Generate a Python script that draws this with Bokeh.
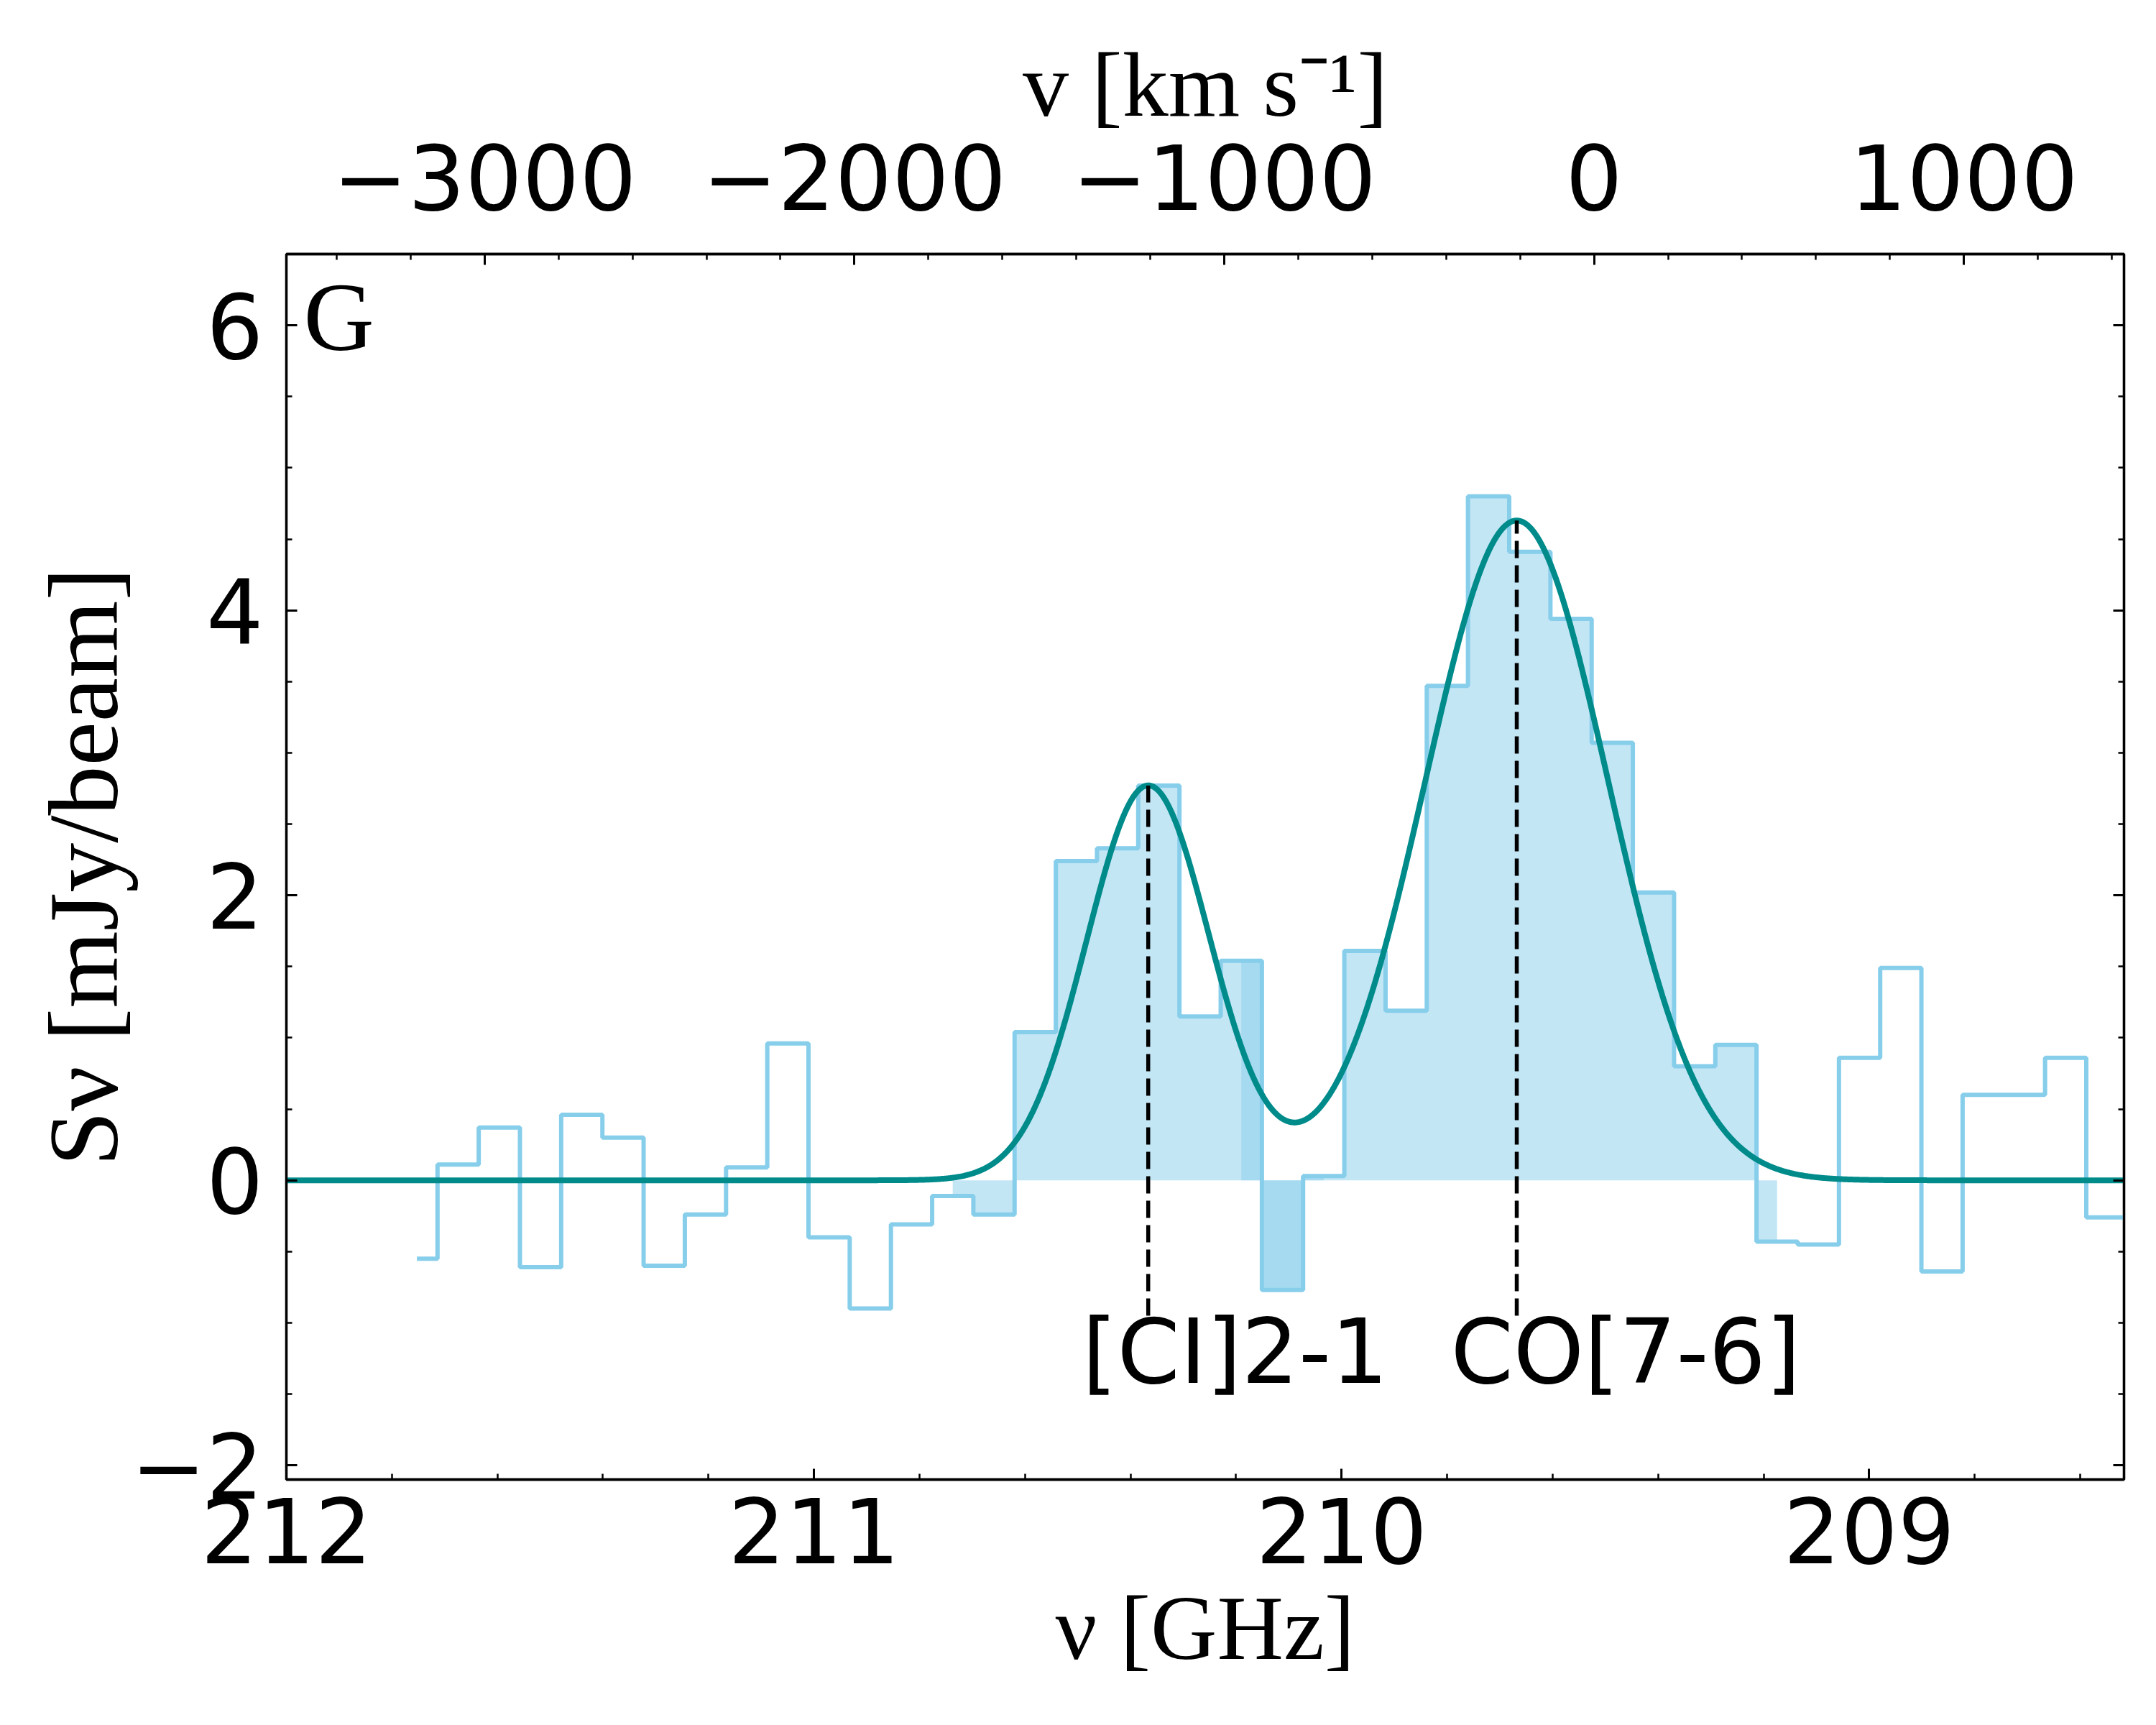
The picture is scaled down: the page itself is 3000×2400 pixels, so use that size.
import numpy as np
from bokeh.plotting import figure
from bokeh.models import (Range1d, LinearAxis, FixedTicker, CustomJSTickFormatter,
                          Label, ColumnDataSource)
from bokeh.embed import file_html
from bokeh.resources import INLINE
from bokeh.core.properties import value

# ---------------- data ----------------
freq_ghz = [211.7526, 211.6745, 211.5964, 211.5182, 211.4401, 211.3620, 211.2839,
            211.2057, 211.1276, 211.0495, 210.9714, 210.8932, 210.8151, 210.7370,
            210.6589, 210.5807, 210.5026, 210.4245, 210.3464, 210.2682, 210.1901,
            210.1120, 210.0339, 209.9557, 209.8776, 209.7995, 209.7214, 209.6432,
            209.5651, 209.4870, 209.4089, 209.3307, 209.2526, 209.1745, 209.0964,
            209.0182, 208.9401, 208.8620, 208.7839, 208.7057, 208.6276, 208.5495,
            208.4714]
flux_mjy = [-0.55, 0.11, 0.37, -0.61, 0.46, 0.30, -0.60,
            -0.24, 0.09, 0.96, -0.40, -0.90, -0.31, -0.11,
            -0.24, 1.04, 2.24, 2.33, 2.77, 1.15, 1.54,
            -0.77, 0.03, 1.61, 1.19, 3.47, 4.80, 4.41,
            3.94, 3.07, 2.02, 0.80, 0.95, -0.43, -0.45,
            0.86, 1.49, -0.64, 0.60, 0.60, 0.86, -0.26,
            -0.26]

# channel index ranges of the shaded line regions
ci_fill_range = (13, 22)
co_fill_range = (20, 33)

# Gaussian fit parameters
line_names = ["[CI]2-1", "CO[7-6]"]
line_freq = [210.3665, 209.668]
line_amp = [2.77, 4.63]
line_sigma = [0.117, 0.173]

x_ticks = [212, 211, 210, 209]
y_ticks = [-2, 0, 2, 4, 6]
v_ticks = [-3000, -2000, -1000, 0, 1000]

# ---------------- figure ----------------
XMIN, XMAX = 212.0, 208.517
YMIN, YMAX = -2.1, 6.5
VMIN, VMAX = -3536.0, 1433.0

p = figure(frame_width=2557, frame_height=1705,
           min_border_left=398, min_border_right=33,
           min_border_top=353, min_border_bottom=330,
           x_range=Range1d(XMIN, XMAX), y_range=Range1d(YMIN, YMAX),
           output_backend="svg", toolbar_location=None,
           x_axis_location="below", y_axis_location="left")
p.grid.visible = False
p.outline_line_color = "black"
p.outline_line_width = 3.3
p.background_fill_color = "white"
p.border_fill_color = "white"

SKY = "#87CEEB"
TEAL = "#008B8B"

# shaded regions
for lo, hi in (ci_fill_range, co_fill_range):
    p.varea_step(x=freq_ghz[lo:hi + 1], y1=[0] * (hi - lo + 1), y2=flux_mjy[lo:hi + 1],
                 step_mode="center", fill_color=SKY, fill_alpha=0.5)

# stepped spectrum
p.step(x=freq_ghz, y=flux_mjy, mode="center", line_color=SKY, line_width=6)

# gaussian fit
xf = np.linspace(XMIN, XMAX, 2000)
yf = np.zeros_like(xf)
for f0, a, s in zip(line_freq, line_amp, line_sigma):
    yf += a * np.exp(-0.5 * ((xf - f0) / s) ** 2)
p.line(xf, yf, line_color=TEAL, line_width=8)

# dashed markers
src = ColumnDataSource(dict(x=line_freq, top=line_amp, bot=[-0.95] * len(line_freq),
                            name=line_names, ty=[-1.2] * len(line_freq)))
p.segment(x0="x", y0="bot", x1="x", y1="top", source=src, line_color="black",
          line_width=5.5, line_dash="24 10")
p.text(x="x", y="ty", text="name", source=src, x_offset=-92,
       text_font=value("DejaVu Sans"), text_font_size=value("125px"),
       text_align="left", text_baseline="alphabetic", text_color="black")

# panel label
p.add_layout(Label(x=XMIN, y=YMAX, x_offset=24, y_offset=-12, text="G",
                   text_font="Liberation Serif", text_font_size="136px",
                   text_baseline="top", text_align="left", text_color="black"))

fmt = CustomJSTickFormatter(code="return (tick < 0 ? '\\u2212' : '') + Math.abs(tick).toFixed(0);")
blank = CustomJSTickFormatter(code="return '';")


def style(ax, standoff, label_size="125px"):
    ax.axis_line_width = 3.3
    ax.major_tick_line_width = 3
    ax.minor_tick_line_width = 2.5
    ax.major_tick_in = 15
    ax.major_tick_out = 0
    ax.minor_tick_in = 8
    ax.minor_tick_out = 0
    ax.major_label_text_font = "DejaVu Sans"
    ax.major_label_text_font_size = "125px"
    ax.major_label_text_color = "black"
    ax.major_label_standoff = standoff
    ax.axis_label_text_font = "Liberation Serif"
    ax.axis_label_text_font_size = label_size
    ax.axis_label_text_font_style = "normal"
    ax.axis_label_text_color = "black"


xminor = [round(212.0 - 0.2 * k, 1) for k in range(18)]
yminor = [-2 + 0.5 * k for k in range(18)]
vminor = list(range(-3400, 1500, 200))

xa = p.xaxis[0]
xa.ticker = FixedTicker(ticks=x_ticks, minor_ticks=xminor)
xa.formatter = fmt
xa.axis_label = "\u03bd [GHz]"
style(xa, 24, "128px")
xa.axis_label_standoff = 16

ya = p.yaxis[0]
ya.ticker = FixedTicker(ticks=y_ticks, minor_ticks=yminor)
ya.formatter = fmt
ya.axis_label = "S\u03bd [mJy/beam]"
style(ya, 32, "138px")
ya.axis_label_standoff = -14

p.extra_x_ranges = {"vel": Range1d(VMIN, VMAX)}
ta = LinearAxis(x_range_name="vel",
                ticker=FixedTicker(ticks=v_ticks, minor_ticks=vminor),
                formatter=fmt, axis_label="v [km s\u207b\u00b9]")
style(ta, 62, "128px")
ta.axis_label_standoff = 8
p.add_layout(ta, "above")

ra = LinearAxis(ticker=FixedTicker(ticks=y_ticks, minor_ticks=yminor), formatter=blank)
style(ra, 0)
ra.major_label_text_font_size = "1px"
p.add_layout(ra, "right")

open("out.html", "w").write(file_html(p, INLINE))
